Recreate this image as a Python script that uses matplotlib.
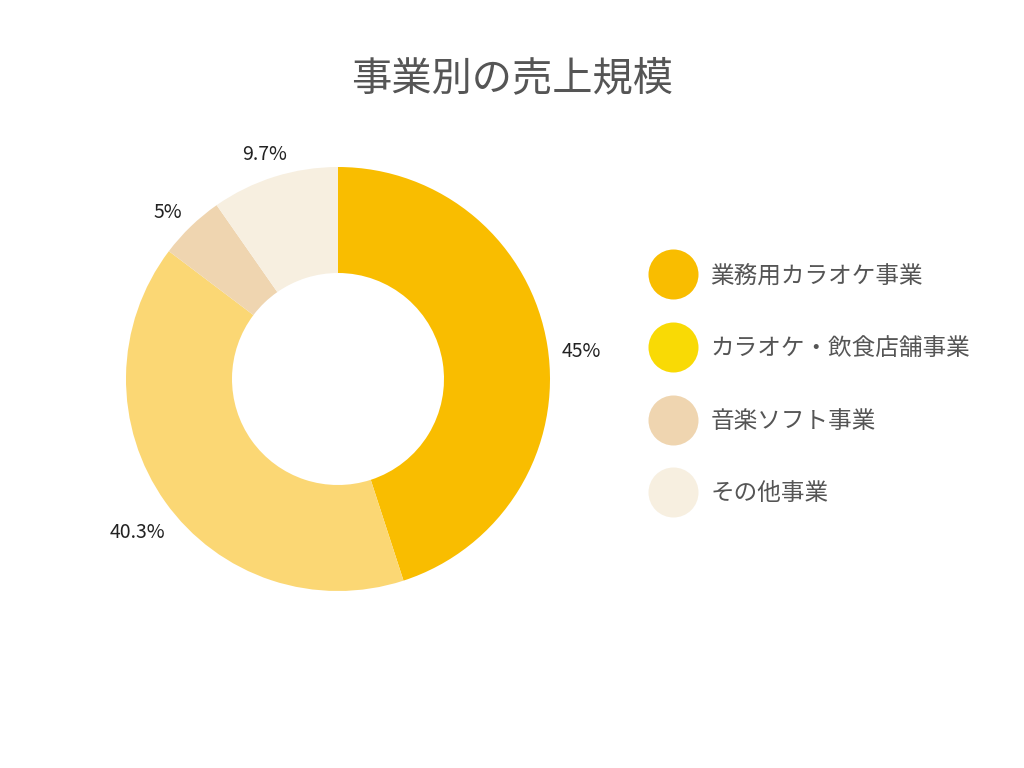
import matplotlib.pyplot as plt
from matplotlib.lines import Line2D
from matplotlib.transforms import offset_copy

plt.rcParams['font.family'] = ['Noto Sans CJK JP', 'DejaVu Sans']

# data
categories = ['業務用カラオケ事業', 'カラオケ・飲食店舗事業', '音楽ソフト事業', 'その他事業']
values = [45, 40.3, 5, 9.7]
labels = ['45%', '40.3%', '5%', '9.7%']
slice_colors = ['#F9BD00', '#FBD774', '#EFD5B0', '#F7EFE0']
legend_colors = ['#F9BD00', '#F9DA05', '#EFD5B0', '#F7EFE0']

fig = plt.figure(figsize=(10.24, 7.68), dpi=100)

# pie axes: center (338, 379) px, radius 212 px
r = 212
ax = fig.add_axes([(338 - 1.5 * r) / 1024, (768 - 379 - 1.5 * r) / 768,
                   3 * r / 1024, 3 * r / 768])
wedges, texts = ax.pie(values, labels=labels, colors=slice_colors, startangle=90,
                       counterclock=False, radius=1, labeldistance=1.16,
                       wedgeprops=dict(width=0.5, linewidth=0),
                       textprops=dict(fontsize=14, color='#222222', ha='center',
                                      va='center_baseline'))
# nudge the labels down a little
for t in texts:
    t.set_transform(offset_copy(ax.transData, fig=fig, y=-8, units='dots'))
ax.set_xlim(-1.5, 1.5)
ax.set_ylim(-1.5, 1.5)
ax.set_aspect('equal')
ax.axis('off')

fig.text(0.5, 1 - 79 / 768, '事業別の売上規模', ha='center', va='center',
         fontsize=29, color='#555555')

handles = [Line2D([], [], marker='o', linestyle='', markersize=36,
                  markerfacecolor=c, markeredgewidth=0) for c in legend_colors]
fig.legend(handles, categories, loc='center left',
           bbox_to_anchor=((673 - 12) / 1024, 1 - 385 / 768),
           frameon=False, fontsize=17, labelcolor='#555555',
           handlelength=1.0, handletextpad=1.1, labelspacing=2.1,
           borderpad=0, borderaxespad=0)

fig.savefig('out.png', dpi=100, facecolor='white')
